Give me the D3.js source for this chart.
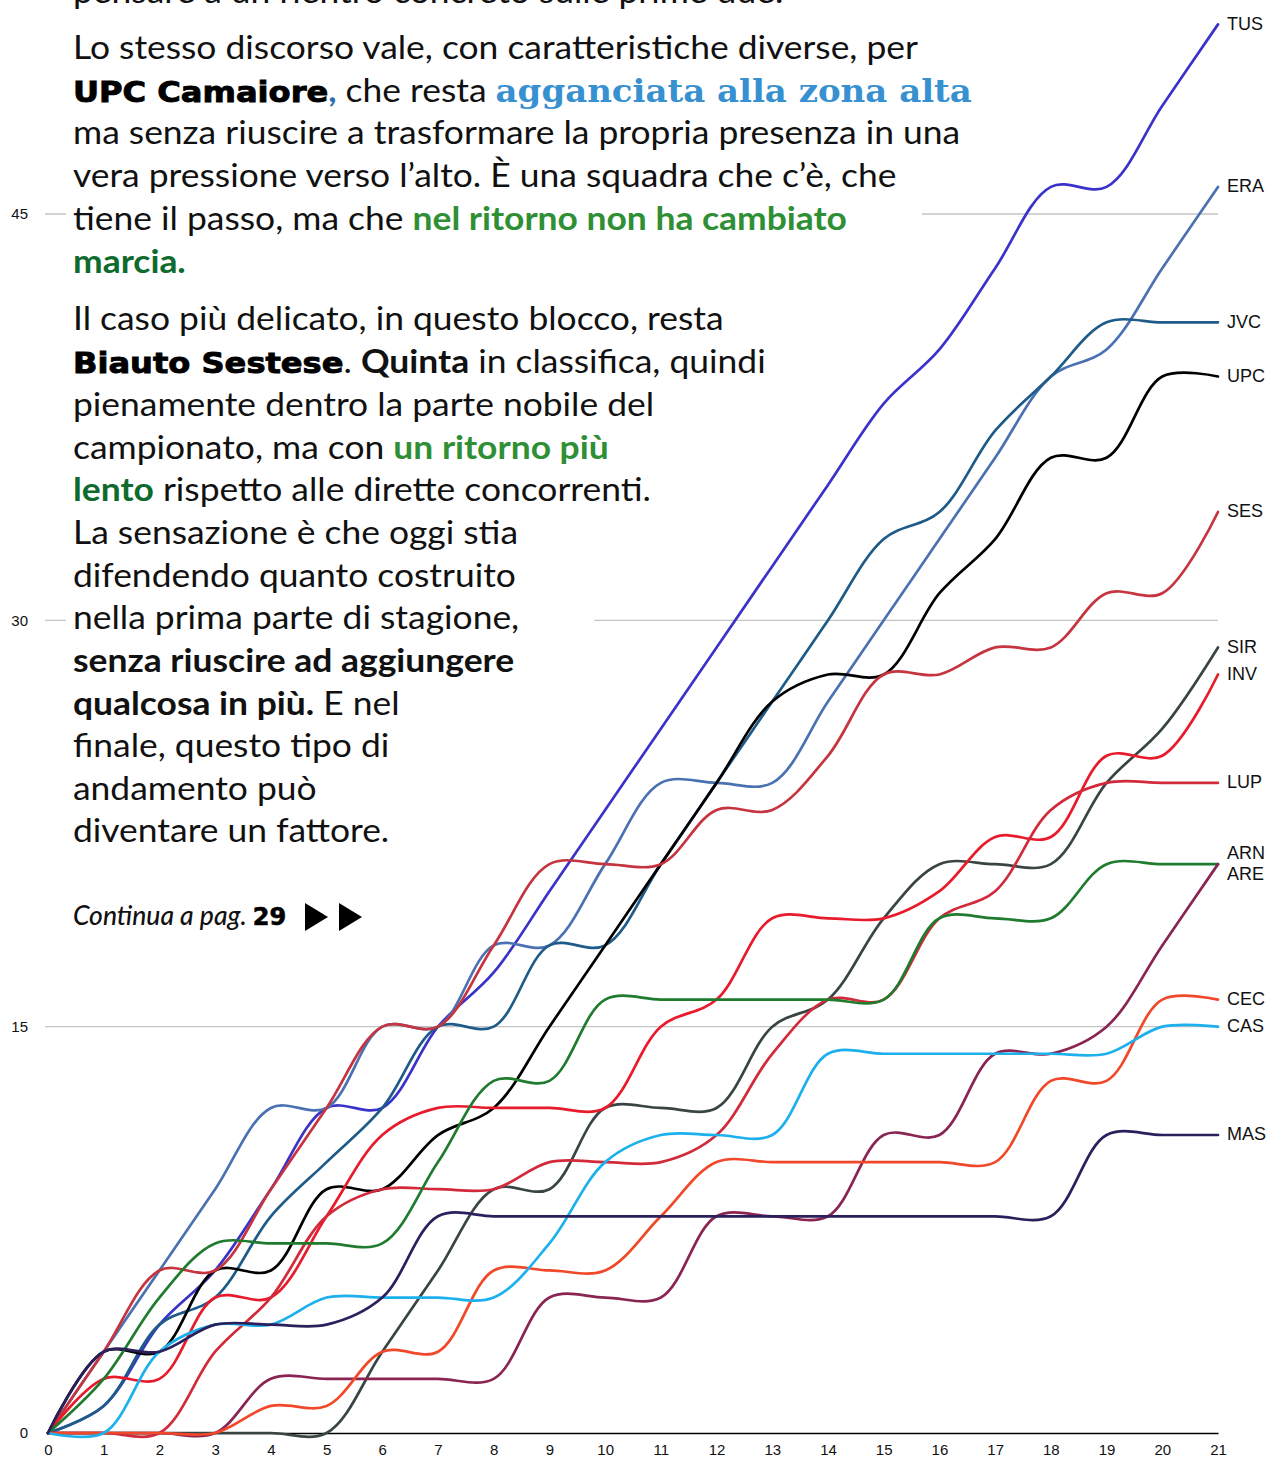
<!DOCTYPE html>
<html>
<head>
<meta charset="utf-8">
<script src="https://cdn.jsdelivr.net/npm/d3@7"></script>
<style>
  body { margin: 0; background: #fff; }
  svg { display: block; }
  .n { font-family: Lato, sans-serif; font-weight: 400; fill: #111; }
  .h { font-family: "DejaVu Sans", sans-serif; font-weight: 700; fill: #000; font-size: 29px; stroke: #000; stroke-width: 0.9px; }
  .b { font-family: Lato, sans-serif; font-weight: 700; fill: #111; }
  .s { font-family: "DejaVu Serif", serif; font-weight: 700; fill: #3790d0; font-size: 30.7px; }
  .c { font-family: Lato, sans-serif; font-weight: 700; fill: #2f6db3; }
  .g { font-family: Lato, sans-serif; font-weight: 700; fill: #2f8f35; }
  .G { font-family: Lato, sans-serif; font-weight: 700; fill: #0f6a2e; }
</style>
</head>
<body>
<div id="chart"></div>
<script>
// giornate (asse x) e tacche asse y
var giornate = [0, 1, 2, 3, 4, 5, 6, 7, 8, 9, 10, 11, 12, 13, 14, 15, 16, 17, 18, 19, 20, 21];
var yTicks = [0, 15, 30, 45];

var squadre = ['TUS', 'ERA', 'JVC', 'UPC', 'SES', 'SIR', 'INV', 'LUP', 'ARN', 'ARE', 'CEC', 'CAS', 'MAS'];

// punti cumulati per giornata
var TUS = [0, 1, 4, 6, 9, 12, 12, 15, 17, 20, 23, 26, 29, 32, 35, 38, 40, 43, 46, 46, 49, 52];
var ERA = [0, 3, 6, 9, 12, 12, 15, 15, 18, 18, 21, 24, 24, 24, 27, 30, 33, 36, 39, 40, 43, 46];
var JVC = [0, 1, 4, 5, 8, 10, 12, 15, 15, 18, 18, 21, 24, 27, 30, 33, 34, 37, 39, 41, 41, 41];
var UPC = [0, 3, 3, 6, 6, 9, 9, 11, 12, 15, 18, 21, 24, 27, 28, 28, 31, 33, 36, 36, 39, 39];
var SES = [0, 3, 6, 6, 9, 12, 15, 15, 18, 21, 21, 21, 23, 23, 25, 28, 28, 29, 29, 31, 31, 34];
var SIR = [0, 0, 0, 0, 0, 0, 3, 6, 9, 9, 12, 12, 12, 15, 16, 19, 21, 21, 21, 24, 26, 29];
var INV = [0, 2, 2, 5, 5, 8, 11, 12, 12, 12, 12, 15, 16, 19, 19, 19, 20, 22, 22, 25, 25, 28];
var LUP = [0, 0, 0, 3, 5, 8, 9, 9, 9, 10, 10, 10, 11, 14, 16, 16, 19, 20, 23, 24, 24, 24];
var ARN = [0, 2, 5, 7, 7, 7, 7, 10, 13, 13, 16, 16, 16, 16, 16, 16, 19, 19, 19, 21, 21, 21];
var ARE = [0, 0, 0, 0, 2, 2, 2, 2, 2, 5, 5, 5, 8, 8, 8, 11, 11, 14, 14, 15, 18, 21];
var CEC = [0, 0, 0, 0, 1, 1, 3, 3, 6, 6, 6, 8, 10, 10, 10, 10, 10, 10, 13, 13, 16, 16];
var CAS = [0, 0, 3, 4, 4, 5, 5, 5, 5, 7, 10, 11, 11, 11, 14, 14, 14, 14, 14, 14, 15, 15];
var MAS = [0, 3, 3, 4, 4, 4, 5, 8, 8, 8, 8, 8, 8, 8, 8, 8, 8, 8, 8, 11, 11, 11];

var punti = [TUS, ERA, JVC, UPC, SES, SIR, INV, LUP, ARN, ARE, CEC, CAS, MAS];

var colori = ['#3b33c9', '#4a72b2', '#1e5b88', '#000000', '#c5343f', '#394545', '#e81b2c',
              '#d22a3b', '#1f7b2d', '#8a2452', '#f2482a', '#1cb0ec', '#2b1f5c'];

var width = 1277;
var height = 1459;

var svg = d3.select('#chart')
  .append('svg')
  .attr('width', width)
  .attr('height', height);

var x = d3.scaleLinear().domain([0, 21]).range([48, 1218]);
var y = d3.scaleLinear().domain([0, 45]).range([1433, 214]);

// griglia
svg.append('g')
  .selectAll('line')
  .data(yTicks.filter(function(d) { return d > 0; }))
  .enter()
  .append('line')
  .attr('x1', x(0) - 3)
  .attr('x2', x(21))
  .attr('y1', function(d) { return y(d); })
  .attr('y2', function(d) { return y(d); })
  .attr('stroke', '#c4c4c4')
  .attr('stroke-width', 1.3);

var maskLayer = svg.append('g');

// asse x
var xAxis = svg.append('g')
  .attr('transform', 'translate(0,' + y(0) + ')')
  .call(d3.axisBottom(x).tickValues(giornate).tickSize(0).tickPadding(11));
xAxis.select('.domain').attr('stroke', '#000').attr('stroke-width', 1.5);
xAxis.selectAll('text')
  .style('font-family', '"Liberation Sans", Arial, sans-serif')
  .style('font-size', '15px')
  .attr('fill', '#111');

// asse y
var yAxis = svg.append('g')
  .attr('transform', 'translate(' + x(0) + ',0)')
  .call(d3.axisLeft(y).tickValues(yTicks).tickSize(0).tickPadding(20));
yAxis.select('.domain').remove();
yAxis.selectAll('text')
  .style('font-family', '"Liberation Sans", Arial, sans-serif')
  .style('font-size', '15px')
  .attr('fill', '#111');

// linee
var line = d3.line()
  .x(function(d, i) { return x(giornate[i]); })
  .y(function(d) { return y(d); })
  .curve(d3.curveCatmullRom);

svg.append('g')
  .selectAll('path')
  .data(punti)
  .enter()
  .append('path')
  .attr('d', line)
  .attr('fill', 'none')
  .attr('stroke', function(d, i) { return colori[i]; })
  .attr('stroke-width', 2.7)
  .attr('stroke-linecap', 'round');

// etichette a destra
var labels = squadre.map(function(s, i) {
  return { name: s, y: y(punti[i][punti[i].length - 1]) };
}).sort(function(a, b) { return a.y - b.y; });
for (var it = 0; it < 30; it++) {
  for (var j = 1; j < labels.length; j++) {
    var gap = labels[j].y - labels[j - 1].y;
    if (gap < 21) {
      labels[j].y += (21 - gap) / 2;
      labels[j - 1].y -= (21 - gap) / 2;
    }
  }
}
svg.append('g')
  .selectAll('text')
  .data(labels)
  .enter()
  .append('text')
  .attr('x', x(21) + 9)
  .attr('y', function(d) { return d.y; })
  .attr('dy', '0.3em')
  .style('font-family', '"Liberation Sans", Arial, sans-serif')
  .style('font-size', '18px')
  .attr('fill', '#111')
  .text(function(d) { return d.name; });

// testo dell'articolo
var righe = [
  [3, [['pensare a un rientro concreto sulle prime due.', 'n']]],
  [59, [['Lo stesso discorso vale, con caratteristiche diverse, per', 'n']]],
  [102, [['UPC Camaiore', 'h'], [',', 'c'], [' che resta ', 'n'], ['agganciata alla zona alta', 's']]],
  [144, [['ma senza riuscire a trasformare la propria presenza in una', 'n']]],
  [187, [['vera pressione verso l\u2019alto. \u00C8 una squadra che c\u2019\u00E8, che', 'n']]],
  [230, [['tiene il passo, ma che ', 'n'], ['nel ritorno non ha cambiato', 'g']]],
  [273, [['marcia.', 'G']]],
  [330, [['Il caso pi\u00F9 delicato, in questo blocco, resta', 'n']]],
  [373, [['Biauto Sestese', 'h'], ['. ', 'n'], ['Quinta', 'b'], [' in classifica, quindi', 'n']]],
  [416, [['pienamente dentro la parte nobile del', 'n']]],
  [459, [['campionato, ma con ', 'n'], ['un ritorno pi\u00F9', 'g']]],
  [501, [['lento', 'G'], [' rispetto alle dirette concorrenti.', 'n']]],
  [544, [['La sensazione \u00E8 che oggi stia', 'n']]],
  [587, [['difendendo quanto costruito', 'n']]],
  [629, [['nella prima parte di stagione,', 'n']]],
  [672, [['senza riuscire ad aggiungere', 'b']]],
  [715, [['qualcosa in pi\u00F9.', 'b'], [' E nel', 'n']]],
  [757, [['finale, questo tipo di', 'n']]],
  [800, [['andamento pu\u00F2', 'n']]],
  [842, [['diventare un fattore.', 'n']]]
];

var textLayer = svg.append('g');
var nodes = righe.map(function(r) {
  var t = textLayer.append('text')
    .attr('transform', 'translate(73,' + r[0] + ')')
    .style('font-size', '32px');
  r[1].forEach(function(s) {
    t.append('tspan').attr('class', s[1]).text(s[0]);
  });
  return t;
});

var k = 845 / nodes[1].node().getComputedTextLength();
nodes.forEach(function(t, i) {
  var w = t.node().getComputedTextLength() * k;
  t.attr('transform', 'translate(73,' + righe[i][0] + ') scale(' + k + ',1)');
  maskLayer.append('rect')
    .attr('x', 66)
    .attr('y', righe[i][0] - 32)
    .attr('width', w + 82)
    .attr('height', 44)
    .attr('fill', '#fff');
});

var cont = textLayer.append('text')
  .attr('x', 73)
  .attr('y', 925);
cont.append('tspan').attr('class', 'n')
  .style('font-style', 'italic').style('font-weight', 500).style('font-size', '26.5px')
  .text('Continua a pag. ');
cont.append('tspan').attr('class', 'h')
  .style('font-size', '24px').style('stroke-width', '0.6px')
  .text('29');

textLayer.selectAll('path.arrow')
  .data([305, 339])
  .enter()
  .append('path')
  .attr('class', 'arrow')
  .attr('d', function(d) { return 'M' + d + ',903L' + (d + 23) + ',917L' + d + ',931Z'; })
  .attr('fill', '#000');
</script>
</body>
</html>
